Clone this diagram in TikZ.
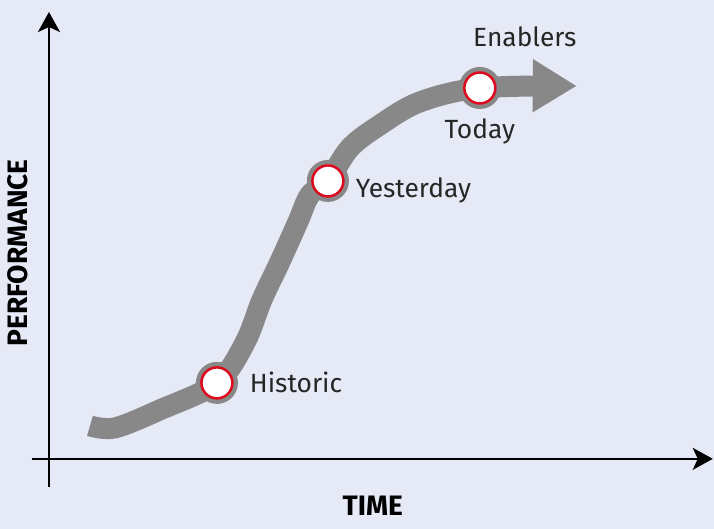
\documentclass[tikz,border=0pt]{standalone}
\usepackage{fontspec}
\setmainfont{Fira Sans}
\usetikzlibrary{arrows.meta,positioning}
\definecolor{bg}{HTML}{E6EAF6}
\definecolor{trend}{HTML}{888888}
\definecolor{ring}{HTML}{DD0A1E}
\tikzset{
	milestone/.style={
		circle,
		fill=white,
		draw=ring,
		line width=0.05cm,
		minimum size=0.62cm,
		inner sep=0pt,
		preaction={draw=trend, line width=0.22cm}
	}
}
\begin{document}
\begin{tikzpicture}
			\tikzstyle{axis}=[line width=0.05cm, -{Stealth[length=0.4cm, width=0.44cm, inset=0.1cm]}]
			\tikzstyle{lbl}=[text=black!85, font=\fontsize{15}{18}\selectfont]
			\tikzstyle{ttl}=[text=black, font=\bfseries\fontsize{16}{19}\selectfont]
			\fill[bg] (0,0) rectangle (14.28,10.58);
			\coordinate (xs) at (0.64,1.40);
			\coordinate (xe) at (14.26,1.40);
			\coordinate (ys) at (0.98,0.84);
			\coordinate (ye) at (0.98,10.34);
			\draw[axis] (xs) -- (xe);
			\draw[axis] (ys) -- (ye);
			\node[ttl] (time) at (7.46,0.46) {TIME};
			\node[ttl, rotate=90] (perf) at (0.36,5.52) {PERFORMANCE};

			\draw[trend, line width=0.42cm, -{Triangle[length=0.88cm, width=1.0cm]}] plot[smooth, tension=0.55] coordinates {(1.80,2.06) (2.30,2.02) (3.20,2.38) (4.34,2.92) (4.90,3.72) (5.24,4.58) (5.60,5.34) (5.96,6.14) (6.20,6.68) (6.56,6.96) (7.00,7.62) (7.60,8.08) (8.40,8.54) (9.60,8.82) (11.54,8.86)};

			\node[milestone] (hist) at (4.34,2.92) {};
			\node[milestone] (yest) at (6.56,6.96) {};
			\node[milestone] (today) at (9.60,8.82) {};
			\node[lbl, right=0.2cm of hist] (histlbl) {Historic};
			\node[lbl, right=0.1cm of yest, yshift=-0.18cm] (yestlbl) {Yesterday};
			\node[lbl, below=0.16cm of today] (todaylbl) {Today};
			\node[lbl] (enab) at (10.5,9.84) {Enablers};
\end{tikzpicture}
\end{document}
